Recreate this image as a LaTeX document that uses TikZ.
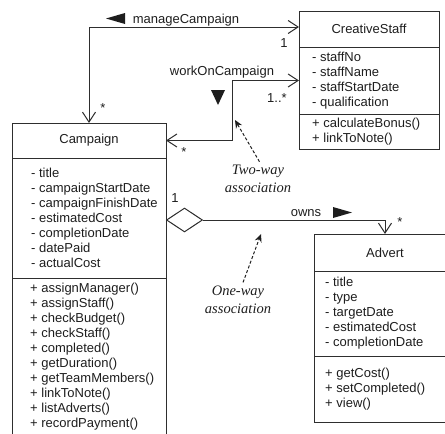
\documentclass[tikz,border=0pt]{standalone}
\usepackage{fontspec}
\setmainfont{Liberation Sans}
\newfontfamily\notefont{Liberation Serif}
\usetikzlibrary{shapes.geometric, arrows.meta, positioning}
\usepackage{xcolor}
\definecolor{UMLInk}{HTML}{1E1E1E}
\definecolor{UMLLine}{HTML}{2E2E2E}
\definecolor{UMLPaper}{HTML}{FFFFFF}
\newcommand{\umlfont}{\fontsize{13}{15}\selectfont}
\newcommand{\notetext}{\notefont\itshape\fontsize{14.5}{18}\selectfont}
\tikzset{
    % Class compartments - sharp corners
    compartment/.style={
        rectangle,
        draw=UMLLine,
        fill=UMLPaper,
        line width=1pt,
        anchor=north west,
        inner sep=0pt,
        outer sep=0pt
    },
    classname/.style={
        compartment,
        font=\umlfont,
        text=UMLInk
    },
    members/.style={
        inner sep=0pt,
        align=left,
        font=\umlfont,
        text=UMLInk
    },
    assoclabel/.style={
        inner sep=0pt,
        anchor=base,
        font=\umlfont,
        text=UMLInk
    },
    note/.style={
        inner sep=0pt,
        anchor=base,
        align=center,
        font=\notetext,
        text=UMLInk
    },
    aggregation/.style={
        diamond,
        draw=UMLLine,
        fill=UMLPaper,
        line width=1pt,
        minimum width=36pt,
        minimum height=24pt,
        inner sep=0pt
    },
    % Connector styles
    assoc/.style={
        line width=1pt,
        draw=UMLLine,
        >={Straight Barb[length=10pt,width=13pt]}
    },
    notearrow/.style={
        -{Stealth[length=8pt,width=7pt]},
        line width=1pt,
        draw=UMLInk,
        dash pattern=on 3pt off 2pt,
        shorten <=3pt
    },
    readdir/.style={
        fill=UMLInk
    }
}
\begin{document}
\begin{tikzpicture}[x=1pt, y=-1pt]
    \useasboundingbox (0,0) rectangle (445,434);
    \clip (0,0) rectangle (445,434);

    % Campaign
    \node[classname, minimum width=154pt, minimum height=35pt] (camp) at (12,123) {Campaign};
    \node[compartment, minimum width=154pt, minimum height=120pt] (campAttr) at (camp.south west) {};
    \node[compartment, minimum width=154pt, minimum height=158pt] (campOps) at (campAttr.south west) {};
    \node[members, right=19pt of campAttr.west] (campAttrText) {- title\\- campaignStartDate\\- campaignFinishDate\\- estimatedCost\\- completionDate\\- datePaid\\- actualCost};
    \node[members, right=18pt of campOps.west] (campOpsText) {+ assignManager()\\+ assignStaff()\\+ checkBudget()\\+ checkStaff()\\+ completed()\\+ getDuration()\\+ getTeamMembers()\\+ linkToNote()\\+ listAdverts()\\+ recordPayment()};

    % CreativeStaff
    \node[classname, minimum width=140pt, minimum height=36pt] (staff) at (299,11) {CreativeStaff};
    \node[compartment, minimum width=140pt, minimum height=67pt] (staffAttr) at (staff.south west) {};
    \node[compartment, minimum width=140pt, minimum height=35pt] (staffOps) at (staffAttr.south west) {};
    \node[members, right=13pt of staffAttr.west] (staffAttrText) {- staffNo\\- staffName\\- staffStartDate\\- qualification};
    \node[members, right=13pt of staffOps.west] (staffOpsText) {+ calculateBonus()\\+ linkToNote()};

    % Advert
    \node[classname, minimum width=142pt, minimum height=37pt] (advert) at (314,234) {Advert};
    \node[compartment, minimum width=142pt, minimum height=85pt] (advAttr) at (advert.south west) {};
    \node[compartment, minimum width=142pt, minimum height=66pt] (advOps) at (advAttr.south west) {};
    \node[members, right=11pt of advAttr.west] (advAttrText) {- title\\- type\\- targetDate\\- estimatedCost\\- completionDate};
    \node[members, right=11pt of advOps.west] (advOpsText) {+ getCost()\\+ setCompleted()\\+ view()};

    % manageCampaign - two-way
    \draw[assoc, <->] (camp.north) |- ([yshift=2pt]staff.west);
    \node[assoclabel] (manageLabel) at (186,23) {manageCampaign};
    \fill[readdir] (125,13) -- (125,24) -- (106,18.5) -- cycle;
    \node[assoclabel] (manageOne) at (284,47) {1};
    \node[assoclabel] (manageMany) at (103,112) {*};

    % workOnCampaign - two-way
    \draw[assoc, <->] (camp.east) -| ([xshift=-67pt]staffAttr.west) -- (staffAttr.west);
    \node[assoclabel] (workLabel) at (222,75) {workOnCampaign};
    \fill[readdir] (211,90) -- (225,90) -- (218,105) -- cycle;
    \node[assoclabel] (workMany) at (277,102) {1..*};
    \node[assoclabel] (workCampMany) at (184,156) {*};

    % owns - one-way, aggregation at Campaign
    \node[aggregation, anchor=west] (ownsDiamond) at ([yshift=-2pt]campAttr.east) {};
    \draw[assoc, ->] (ownsDiamond.east) -| (advert.north);
    \node[assoclabel] (ownsLabel) at (306,216) {owns};
    \fill[readdir] (333,207) -- (333,218) -- (352,212.5) -- cycle;
    \node[assoclabel] (ownsOne) at (175,202) {1};
    \node[assoclabel] (ownsMany) at (400,226) {*};

    % Notes
    \node[note] (twoWay) at (258,192) {Two-way\\association};
    \coordinate (twoWayTip) at (235,120);
    \draw[notearrow] ([xshift=3pt]twoWay.north) -- (twoWayTip);

    \node[note] (oneWay) at (238,313) {One-way\\association};
    \coordinate (oneWayTip) at (261,234);
    \draw[notearrow] ([xshift=4pt]oneWay.north) -- (oneWayTip);
\end{tikzpicture}
\end{document}
